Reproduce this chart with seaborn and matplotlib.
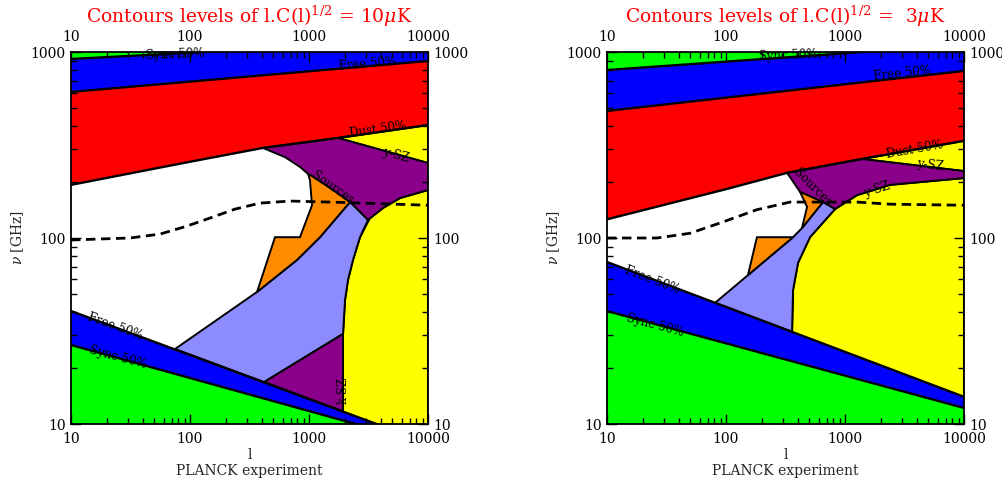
import numpy as np
import pandas as pd
import matplotlib
matplotlib.use("Agg")
import matplotlib.pyplot as plt
import seaborn as sns

# ---------------------------------------------------------------------------
# Axis ticks
# ---------------------------------------------------------------------------
l_ticks = [10, 100, 1000, 10000]
l_tick_labels = ["10", "100", "1000", "10000"]
nu_ticks = [10, 100, 1000]
nu_tick_labels = ["10", "100", "1000"]

titles = [r"Contours levels of l.C(l)$^{1/2}$ = 10$\mu$K",
          r"Contours levels of l.C(l)$^{1/2}$ =  3$\mu$K"]

# ---------------------------------------------------------------------------
# Panel 1 : 10 microK
# ---------------------------------------------------------------------------
a_sync_hi_l = [10, 10000];               a_sync_hi_nu = [917, 1156]
a_free_hi_l = [10, 10000];               a_free_hi_nu = [610, 895]
a_dust_l = [10, 100, 410, 1754, 10000];  a_dust_nu = [193, 257, 305, 345, 405]
a_free_lo_l = [10, 10000];               a_free_lo_nu = [40.5, 7.9]
a_sync_lo_l = [10, 10000];               a_sync_lo_nu = [26.6, 7.8]

a_ysz_hi_l = [1754, 10000, 10000];       a_ysz_hi_nu = [345, 405, 253]
a_src_hi_l = [410, 1754, 10000, 10000, 5820, 4190, 3130, 2210, 1500, 1060, 982, 840, 629]
a_src_hi_nu = [305, 345, 253, 181, 164, 145, 125, 156, 186, 215, 221, 241, 272]
a_orange_l = [982, 1060, 1500, 2210, 1237, 793, 366, 518, 840, 1060, 1019]
a_orange_nu = [221, 215, 186, 156, 101, 76.2, 51.3, 101, 101, 150, 205]
a_lav_l = [2210, 3130, 2683, 2343, 2127, 2008, 1932, 419, 74.8, 366, 793, 1237]
a_lav_nu = [156, 125, 101, 76.2, 59.5, 46.4, 30.5, 16.8, 25.3, 51.3, 76.2, 101]
a_ksz_l = [419, 1932, 1932];             a_ksz_nu = [16.8, 30.5, 11.7]
a_ysz_lo_l = [1932, 1932, 2008, 2127, 2343, 2683, 3255, 4190, 5820, 10000, 10000]
a_ysz_lo_nu = [8, 30.5, 46.4, 59.5, 76.2, 101, 128, 145, 164, 181, 8]
a_dash_l = [10, 17.5, 31.3, 56, 90.8, 147, 239, 387, 692, 1500, 10000]
a_dash_nu = [97.5, 98.8, 100, 105, 115, 128, 143, 154, 158, 156, 150]

# ---------------------------------------------------------------------------
# Panel 2 : 3 microK
# ---------------------------------------------------------------------------
b_sync_hi_l = [10, 10000];               b_sync_hi_nu = [800, 1092]
b_free_hi_l = [10, 10000];               b_free_hi_nu = [482, 791]
b_dust_l = [10, 100, 326, 1390, 10000];  b_dust_nu = [126, 183, 224, 266, 333]
b_free_lo_l = [10, 10000];               b_free_lo_nu = [74.3, 14.0]
b_sync_lo_l = [10, 10000];               b_sync_lo_nu = [40.5, 12.2]

b_ysz_hi_l = [1390, 10000, 10000];       b_ysz_hi_nu = [266, 333, 229]
b_src_hi_l = [326, 1390, 10000, 10000, 2388, 1262, 824, 653, 419]
b_src_hi_nu = [224, 266, 229, 210, 193, 170, 143, 156, 177]
b_orange_l = [419, 653, 435, 480];       b_orange_nu = [177, 156, 113, 147]
b_orange2_l = [182, 366, 153];           b_orange2_nu = [101, 101, 63.2]
b_lav_l = [80.9, 366, 435, 653, 824, 508, 403, 366, 359]
b_lav_nu = [44.8, 101, 113, 156, 143, 101, 73.5, 52.5, 31.3]
b_ysz_lo_l = [359, 359, 366, 403, 508, 824, 1262, 2388, 10000, 10000]
b_ysz_lo_nu = [8, 31.3, 52.5, 73.5, 101, 143, 170, 193, 210, 8]
b_dash_l = [10, 26.3, 49.8, 94.4, 182, 345, 653, 1262, 2388, 10000]
b_dash_nu = [100, 100, 106, 122, 142, 156, 156, 156, 152, 150]

# Contour labels: text, l, nu, rotation
a_labels = [("Sync 50%", 74.8, 975, 2), ("Free 50%", 3070, 862, 5),
            ("Dust 50%", 3800, 381, 8), ("y-SZ", 5380, 279, -15),
            ("Sources", 1592, 186, -35), ("Free 50%", 23.4, 33.3, -20),
            ("Sync 50%", 24.8, 22.9, -15), ("k-SZ", 1932, 15.2, 90)]
b_labels = [("Sync 50%", 330, 963, 2), ("Free 50%", 3013, 762, 6),
            ("Dust 50%", 3870, 297, 10), ("y-SZ", 5180, 247, -7),
            ("y-SZ", 1858, 181, 18), ("Sources", 528, 186, -45),
            ("Free 50%", 23.9, 59.5, -21), ("Sync 50%", 25.3, 34.0, -15)]

GREEN = "#00ff00"
BLUE = "#0000ff"
RED = "#ff0000"
YELLOW = "#ffff00"
PURPLE = "#8b008b"
ORANGE = "#ff8c00"
LAVENDER = "#8c8cff"

sns.set_theme(style="ticks")
plt.rcParams["font.family"] = ["DejaVu Serif"]
plt.rcParams["mathtext.fontset"] = "dejavuserif"

fig = plt.figure(figsize=(10.03, 4.80), dpi=100)
ax1 = fig.add_axes([71 / 1003, 56 / 480, 357 / 1003, 372 / 480])
ax2 = fig.add_axes([607 / 1003, 56 / 480, 357 / 1003, 372 / 480])


def poly(ax, l, nu, color, z=1.2):
    ax.fill(l, nu, facecolor=color, edgecolor="black", linewidth=1.4, zorder=z)


def band(ax, l1, n1, l2, n2, color, z=1.0):
    ax.fill(list(l1) + list(l2)[::-1], list(n1) + list(n2)[::-1],
            facecolor=color, edgecolor="none", zorder=z)


def draw_panel(ax, d, labels, title):
    ax.set_axisbelow(False)
    # foreground bands at high frequency
    band(ax, d["dust_l"], d["dust_nu"], d["free_hi_l"], d["free_hi_nu"], RED)
    band(ax, d["free_hi_l"], d["free_hi_nu"], d["sync_hi_l"], d["sync_hi_nu"], BLUE)
    band(ax, d["sync_hi_l"], d["sync_hi_nu"], [10, 10000], [5000, 5000], GREEN)
    # point sources and SZ regions
    for key, col in d["regions"]:
        poly(ax, d[key + "_l"], d[key + "_nu"], col)
    # foreground bands at low frequency, on top of the SZ regions
    band(ax, d["free_lo_l"], d["free_lo_nu"], d["sync_lo_l"], d["sync_lo_nu"], BLUE, 1.5)
    band(ax, d["sync_lo_l"], d["sync_lo_nu"], [10, 10000], [1, 1], GREEN, 1.5)

    for key in ["sync_hi", "free_hi", "dust", "free_lo", "sync_lo"]:
        df = pd.DataFrame({"l": d[key + "_l"], "nu": d[key + "_nu"]})
        sns.lineplot(data=df, x="l", y="nu", ax=ax, color="black", lw=1.7,
                     sort=False, estimator=None, zorder=3)

    dash = pd.DataFrame({"l": d["dash_l"], "nu": d["dash_nu"]})
    sns.lineplot(data=dash, x="l", y="nu", ax=ax, color="black", lw=2.0,
                 sort=False, estimator=None, zorder=4)
    ax.lines[-1].set_dashes((3.4, 2.0))

    for txt, lx, ny, rot in labels:
        ax.text(lx, ny, txt, fontsize=8.5, rotation=rot, ha="center",
                va="center", rotation_mode="anchor", zorder=5, color="black")

    ax.set_xscale("log")
    ax.set_yscale("log")
    ax.set_xlim(10, 10000)
    ax.set_ylim(10, 1000)
    ax.set_xticks(l_ticks)
    ax.set_xticklabels(l_tick_labels)
    ax.set_yticks(nu_ticks)
    ax.set_yticklabels(nu_tick_labels)
    ax.tick_params(which="both", direction="in", top=True, right=True,
                   labeltop=True, labelright=True, colors="black",
                   labelsize=10, width=1.0)
    ax.tick_params(which="major", length=7)
    ax.tick_params(which="minor", length=4)
    ax.tick_params(axis="x", which="major", pad=6)
    ax.tick_params(axis="y", which="major", pad=4)
    for s in ax.spines.values():
        s.set_linewidth(1.3)
        s.set_color("black")
        s.set_zorder(6)
    ax.set_xlabel("l\nPLANCK experiment", fontsize=10, linespacing=1.25,
                  labelpad=1)
    ax.set_ylabel(r"$\nu$ [GHz]", fontsize=10, labelpad=3)
    ax.set_title(title, color=RED, fontsize=13.5, pad=21)


panel_a = dict(sync_hi_l=a_sync_hi_l, sync_hi_nu=a_sync_hi_nu,
               free_hi_l=a_free_hi_l, free_hi_nu=a_free_hi_nu,
               dust_l=a_dust_l, dust_nu=a_dust_nu,
               free_lo_l=a_free_lo_l, free_lo_nu=a_free_lo_nu,
               sync_lo_l=a_sync_lo_l, sync_lo_nu=a_sync_lo_nu,
               ysz_hi_l=a_ysz_hi_l, ysz_hi_nu=a_ysz_hi_nu,
               src_hi_l=a_src_hi_l, src_hi_nu=a_src_hi_nu,
               orange_l=a_orange_l, orange_nu=a_orange_nu,
               lav_l=a_lav_l, lav_nu=a_lav_nu,
               ksz_l=a_ksz_l, ksz_nu=a_ksz_nu,
               ysz_lo_l=a_ysz_lo_l, ysz_lo_nu=a_ysz_lo_nu,
               dash_l=a_dash_l, dash_nu=a_dash_nu,
               regions=[("ysz_lo", YELLOW), ("ysz_hi", YELLOW), ("src_hi", PURPLE),
                        ("lav", LAVENDER), ("orange", ORANGE), ("ksz", PURPLE)])

panel_b = dict(sync_hi_l=b_sync_hi_l, sync_hi_nu=b_sync_hi_nu,
               free_hi_l=b_free_hi_l, free_hi_nu=b_free_hi_nu,
               dust_l=b_dust_l, dust_nu=b_dust_nu,
               free_lo_l=b_free_lo_l, free_lo_nu=b_free_lo_nu,
               sync_lo_l=b_sync_lo_l, sync_lo_nu=b_sync_lo_nu,
               ysz_hi_l=b_ysz_hi_l, ysz_hi_nu=b_ysz_hi_nu,
               src_hi_l=b_src_hi_l, src_hi_nu=b_src_hi_nu,
               orange_l=b_orange_l, orange_nu=b_orange_nu,
               orange2_l=b_orange2_l, orange2_nu=b_orange2_nu,
               lav_l=b_lav_l, lav_nu=b_lav_nu,
               ysz_lo_l=b_ysz_lo_l, ysz_lo_nu=b_ysz_lo_nu,
               dash_l=b_dash_l, dash_nu=b_dash_nu,
               regions=[("ysz_lo", YELLOW), ("ysz_hi", YELLOW), ("src_hi", PURPLE),
                        ("lav", LAVENDER), ("orange", ORANGE), ("orange2", ORANGE)])

draw_panel(ax1, panel_a, a_labels, titles[0])
draw_panel(ax2, panel_b, b_labels, titles[1])

fig.savefig("out.png", dpi=100)
